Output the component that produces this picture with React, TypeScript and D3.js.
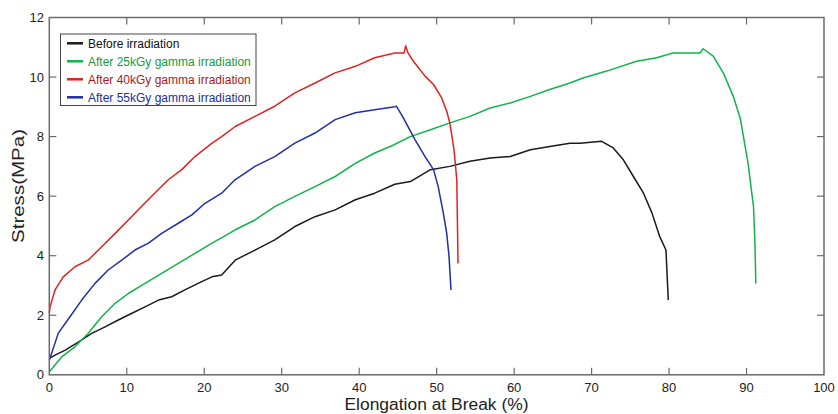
import React from "react";
import * as d3 from "d3";

type P = [number, number];

const xTicks = [0, 10, 20, 30, 40, 50, 60, 70, 80, 90, 100];
const yTicks = [0, 2, 4, 6, 8, 10, 12];

const seriesNames = [
  "Before irradiation",
  "After 25kGy gamma irradiation",
  "After 40kGy gamma irradiation",
  "After 55kGy gamma irradiation",
];

const before: P[] = [
  [0, 0.55], [0.74, 0.66], [2.0, 0.82], [3.74, 1.1], [5.47, 1.39], [7.2, 1.61], [8.9, 1.84],
  [10.6, 2.06], [12.35, 2.28], [14.1, 2.51], [15.8, 2.62], [17.5, 2.85], [19.2, 3.07],
  [21.0, 3.29], [22.25, 3.35], [24, 3.85], [26.55, 4.19], [29.1, 4.53], [31.7, 4.98],
  [34.3, 5.31], [36.9, 5.54], [39.5, 5.88], [42.0, 6.1], [44.6, 6.4], [46.6, 6.49],
  [49.2, 6.89], [51.7, 7.0], [54.3, 7.17], [56.9, 7.28], [59.5, 7.33], [62.1, 7.56],
  [64.6, 7.67], [67.2, 7.78], [68.5, 7.78], [71.3, 7.84], [72.8, 7.62], [74.1, 7.22],
  [75.4, 6.66], [76.7, 6.1], [77.8, 5.43], [78.8, 4.64], [79.6, 4.19], [79.9, 2.51],
];

const gy25: P[] = [
  [0, 0.1], [1.6, 0.6], [3.3, 0.94], [5.0, 1.39], [6.76, 1.95], [8.5, 2.4], [10.2, 2.73],
  [12.35, 3.07], [14.5, 3.41], [16.65, 3.74], [18.8, 4.08], [21.0, 4.42], [22.5, 4.64],
  [24, 4.87], [26.55, 5.2], [29.1, 5.65], [31.7, 5.99], [34.3, 6.32], [36.9, 6.66],
  [39.5, 7.1], [42.0, 7.45], [44.3, 7.7], [46.6, 8.0], [49.2, 8.23], [51.7, 8.46],
  [54.3, 8.68], [56.9, 8.96], [59.5, 9.13], [62.1, 9.35], [64.6, 9.58], [67.2, 9.8],
  [68.9, 9.97], [71.95, 10.2], [75.8, 10.53], [78.4, 10.65], [80.5, 10.81], [84.0, 10.81],
  [84.4, 10.95], [85.7, 10.7], [87.0, 10.14], [88.3, 9.35], [89.2, 8.6], [90.2, 7.1],
  [90.9, 5.65], [91.1, 4.3], [91.2, 3.07],
];

const gy40: P[] = [
  [0, 2.07], [0.1, 2.28], [0.74, 2.85], [1.8, 3.29], [3.3, 3.63], [5.0, 3.85], [6.76, 4.3],
  [8.5, 4.75], [10.2, 5.2], [11.9, 5.65], [13.6, 6.1], [15.36, 6.55], [17.1, 6.89],
  [18.8, 7.33], [21.0, 7.78], [22.25, 8.0], [24, 8.34], [26.55, 8.68], [29.1, 9.02],
  [31.7, 9.47], [34.3, 9.8], [36.9, 10.14], [39.5, 10.36], [42.0, 10.65], [44.6, 10.81],
  [45.8, 10.81], [46.0, 11.05], [46.3, 10.81], [47.0, 10.53], [48.5, 10.03], [49.6, 9.75],
  [50.65, 9.3], [51.3, 8.85], [51.7, 8.46], [52.24, 7.56], [52.6, 6.55], [52.76, 3.74],
];

const gy55: P[] = [
  [0, 0.5], [0.3, 0.72], [1.16, 1.4], [2.67, 1.95], [4.18, 2.51], [5.9, 3.07], [7.6, 3.52],
  [9.35, 3.85], [11.06, 4.19], [12.8, 4.42], [14.5, 4.75], [16.65, 5.09], [18.4, 5.37],
  [20.1, 5.76], [22.25, 6.1], [23.97, 6.55], [26.55, 7.0], [29.1, 7.33], [31.7, 7.78],
  [34.3, 8.12], [36.9, 8.57], [39.5, 8.8], [42.0, 8.9], [44.6, 9.0], [44.8, 9.02],
  [45.7, 8.63], [47.2, 7.9], [48.5, 7.33], [49.6, 6.89], [50.2, 6.32], [50.86, 5.43],
  [51.3, 4.75], [51.6, 3.97], [51.85, 2.85],
];

const lineColors = ["#1a1a1a", "#12b34a", "#e0221f", "#1f2fa6"];
const textColors = ["#111111", "#159a3c", "#a61a1a", "#22308f"];
const allSeries = [before, gy25, gy40, gy55];

const W = 838;
const H = 414;
const L = 49.3, R = 824, T = 17.5, B = 374.8;

export default function App() {
  const x = d3.scaleLinear().domain([0, 100]).range([L, R]);
  const y = d3.scaleLinear().domain([0, 12]).range([B, T]);
  const line = d3
    .line<P>()
    .x((d) => x(d[0]))
    .y((d) => y(d[1]))
    .curve(d3.curveLinear);
  const axisColor = "#6b6b6b";
  const font = "Arial, 'Liberation Sans', sans-serif";
  const tickLen = 7;
  return (
    <svg
      width={W}
      height={H}
      style={{ position: "absolute", left: 0, top: 0, background: "#fff" }}
      fontFamily={font}
    >
      <rect x={0} y={0} width={W} height={H} fill="#fff" />
      {allSeries.map((s, i) => (
        <path key={i} d={line(s) || ""} fill="none" stroke={lineColors[i]} strokeWidth={1.5} strokeLinejoin="round" />
      ))}
      <rect x={L} y={T} width={R - L} height={B - T} fill="none" stroke={axisColor} strokeWidth={1.5} />
      {xTicks.map((t) => (
        <g key={"x" + t}>
          {t > 0 && t < 100 && (
            <>
              <line x1={x(t)} x2={x(t)} y1={B} y2={B - tickLen} stroke={axisColor} strokeWidth={1.2} />
              <line x1={x(t)} x2={x(t)} y1={T} y2={T + tickLen} stroke={axisColor} strokeWidth={1.2} />
            </>
          )}
          <text x={x(t)} y={391.5} textAnchor="middle" fontSize={13} fill="#222">
            {t}
          </text>
        </g>
      ))}
      {yTicks.map((t) => (
        <g key={"y" + t}>
          {t > 0 && t < 12 && (
            <>
              <line x1={L} x2={L + tickLen} y1={y(t)} y2={y(t)} stroke={axisColor} strokeWidth={1.2} />
              <line x1={R} x2={R - tickLen} y1={y(t)} y2={y(t)} stroke={axisColor} strokeWidth={1.2} />
            </>
          )}
          <text x={44} y={y(t)} dy="0.35em" textAnchor="end" fontSize={13} fill="#222">
            {t}
          </text>
        </g>
      ))}
      <text
        x={436.5}
        y={409.5}
        textAnchor="middle"
        fontSize={16}
        fill="#222"
        textLength={184}
        lengthAdjust="spacingAndGlyphs"
      >
        Elongation at Break (%)
      </text>
      <text
        transform={`translate(24, 186) rotate(-90)`}
        textAnchor="middle"
        fontSize={17}
        fill="#222"
        textLength={114}
        lengthAdjust="spacingAndGlyphs"
      >
        Stress(MPa)
      </text>
      <rect x={60.5} y={34} width={195.5} height={71.5} fill="#fff" stroke="#444" strokeWidth={1} />
      {seriesNames.map((n, i) => {
        const cy = 43.3 + i * 18;
        return (
          <g key={n}>
            <line x1={67} x2={83} y1={cy} y2={cy} stroke={lineColors[i]} strokeWidth={2.5} />
            <text x={88} y={cy} dy="0.35em" fontSize={12} fill={textColors[i]}>
              {n}
            </text>
          </g>
        );
      })}
    </svg>
  );
}
